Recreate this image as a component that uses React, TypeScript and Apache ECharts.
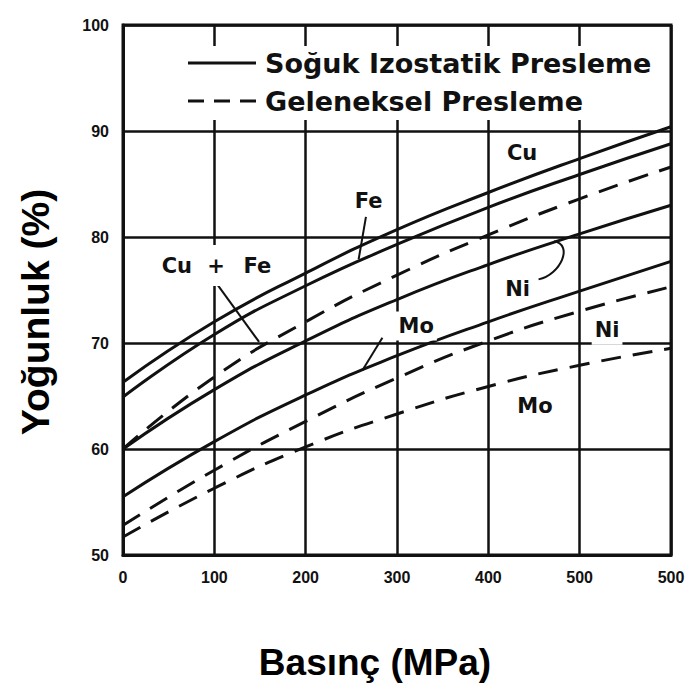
import React, { useEffect, useRef } from "react";
import * as echarts from "echarts";

// Pressure (MPa) at the grid lines
const pressure = [0, 100, 200, 300, 400, 500, 600];
// Cold isostatic pressing (solid)
const cuSolid = [66.3, 72.0, 76.6, 80.7, 84.2, 87.4, 90.4];
const feSolid = [64.9, 70.8, 75.4, 79.3, 82.8, 85.9, 88.8];
const niSolid = [60.0, 65.6, 70.2, 74.1, 77.4, 80.3, 83.0];
const moSolid = [55.5, 60.7, 65.1, 68.8, 72.0, 74.9, 77.7];
// Conventional pressing (dashed)
const cuFeDashed = [60.0, 66.8, 72.0, 76.4, 80.2, 83.6, 86.6];
const niDashed = [52.8, 58.0, 62.6, 66.7, 70.2, 73.0, 75.3];
const moDashed = [51.7, 56.3, 60.2, 63.3, 65.9, 67.9, 69.5];

const xTickLabels = ["0", "100", "200", "300", "400", "500", "500"];
const yTickLabels = ["50", "60", "70", "80", "90", "100"];

const solidName = "Soğuk Izostatik Presleme";
const dashedName = "Geleneksel Presleme";

// Curve labels placed in data coordinates [pressure, density]
const curveLabels: { text: string; at: [number, number]; pad?: number[] }[] = [
  { text: "Cu", at: [437, 87.9] },
  { text: "Fe", at: [269, 83.4] },
  { text: "Cu", at: [59, 77.3] },
  { text: "+", at: [102, 77.3], pad: [10, 4] },
  { text: "Fe", at: [147, 77.3] },
  { text: "Ni", at: [432, 75.1] },
  { text: "Mo", at: [321, 71.6] },
  { text: "Ni", at: [530, 71.2] },
  { text: "Mo", at: [451, 64.1] },
];
const leaders: [number, number][][] = [
  [[266, 81.9], [258, 77.9]],
  [[100, 75.9], [149, 70.1]],
  [[284, 70.5], [262, 67.4]],
];
const niLeader: [number, number][] = [[455, 76.0], [480, 76.5], [493, 79.3], [472, 79.6]];

const INK = "#111";

export default function App() {
  const ref = useRef<HTMLDivElement>(null);
  useEffect(() => {
    const chart = echarts.init(ref.current!, null, { renderer: "svg" });
    const mk = (name: string, vals: number[], dashed: boolean) => ({
      type: "line",
      name,
      data: pressure.map((x, i) => [x, vals[i]]),
      smooth: 0.5,
      symbol: "none",
      showSymbol: false,
      silent: true,
      lineStyle: { color: INK, width: 3, type: dashed ? [20, 12] : "solid" },
      itemStyle: { color: INK },
      z: 3,
    });
    const tickFont = {
      fontFamily: "'Liberation Sans Narrow', 'Liberation Sans', sans-serif",
      fontWeight: "bold",
      fontSize: 16,
      color: INK,
    };
    chart.setOption({
      animation: false,
      backgroundColor: "#fff",
      grid: { left: 123, right: 17, top: 25, bottom: 133, show: true, borderColor: INK, borderWidth: 3, backgroundColor: "transparent" },
      xAxis: {
        type: "value",
        min: 0,
        max: 600,
        interval: 100,
        axisLine: { show: true, lineStyle: { color: INK, width: 3 } },
        axisTick: { show: false },
        splitLine: { show: true, lineStyle: { color: INK, width: 2.5 } },
        axisLabel: { ...tickFont, margin: 14, formatter: (v: number) => xTickLabels[Math.round(v / 100)] },
      },
      yAxis: {
        type: "value",
        min: 50,
        max: 100,
        interval: 10,
        axisLine: { show: true, lineStyle: { color: INK, width: 3 } },
        axisTick: { show: false },
        splitLine: { show: true, lineStyle: { color: INK, width: 2.5 } },
        axisLabel: { ...tickFont, margin: 14, formatter: (v: number) => yTickLabels[Math.round((v - 50) / 10)] },
      },
      series: [
        mk(solidName, cuSolid, false),
        mk(solidName, feSolid, false),
        mk(solidName, niSolid, false),
        mk(solidName, moSolid, false),
        mk(dashedName, cuFeDashed, true),
        mk(dashedName, niDashed, true),
        mk(dashedName, moDashed, true),
      ],
    });

    const px = (p: [number, number]) => chart.convertToPixel({ gridIndex: 0 }, p) as number[];
    const graphic: any[] = [];
    // legend box (drawn manually so the sample lines have no symbol)
    graphic.push({ type: "rect", z: 40, silent: true, shape: { x: 180, y: 46, width: 485, height: 74 }, style: { fill: "#fff" } });
    graphic.push({ type: "line", z: 41, silent: true, shape: { x1: 188, y1: 63, x2: 256, y2: 63 }, style: { stroke: INK, lineWidth: 3 } });
    graphic.push({ type: "line", z: 41, silent: true, shape: { x1: 188, y1: 101, x2: 256, y2: 101 }, style: { stroke: INK, lineWidth: 3, lineDash: [16, 10] } });
    [[solidName, 63], [dashedName, 101]].forEach(([t, y]) => {
      graphic.push({
        type: "text",
        z: 41,
        silent: true,
        x: 265,
        y: y as number,
        style: { text: t as string, align: "left", verticalAlign: "middle", fontFamily: "'DejaVu Sans', sans-serif", fontWeight: "bold", fontSize: 27, fill: INK },
      });
    });
    leaders.forEach((seg) => {
      const a = px(seg[0]);
      const b = px(seg[1]);
      graphic.push({ type: "line", z: 50, silent: true, shape: { x1: a[0], y1: a[1], x2: b[0], y2: b[1] }, style: { stroke: INK, lineWidth: 2 } });
    });
    {
      const [s, c1, c2, e] = niLeader.map(px);
      graphic.push({
        type: "bezierCurve",
        z: 50,
        silent: true,
        shape: { x1: s[0], y1: s[1], cpx1: c1[0], cpy1: c1[1], cpx2: c2[0], cpy2: c2[1], x2: e[0], y2: e[1] },
        style: { stroke: INK, lineWidth: 2, fill: null },
      });
    }
    curveLabels.forEach((l) => {
      const p = px(l.at);
      graphic.push({
        type: "text",
        z: 60,
        silent: true,
        x: p[0],
        y: p[1],
        style: {
          text: l.text,
          align: "center",
          verticalAlign: "middle",
          fontFamily: "'DejaVu Sans', sans-serif",
          fontWeight: "bold",
          fontSize: 21,
          fill: INK,
          backgroundColor: "#fff",
          padding: l.pad || [4, 3],
        },
      });
    });
    graphic.push({
      type: "text",
      silent: true,
      x: 375,
      y: 662,
      style: { text: "Basınç (MPa)", align: "center", verticalAlign: "middle", fontFamily: "'Liberation Sans', Arial, sans-serif", fontWeight: "bold", fontSize: 37, fill: "#000" },
    });
    graphic.push({
      type: "text",
      silent: true,
      x: 35,
      y: 312,
      rotation: Math.PI / 2,
      style: { text: "Yoğunluk (%)", align: "center", verticalAlign: "middle", fontFamily: "'Liberation Sans', Arial, sans-serif", fontWeight: "bold", fontSize: 39, fill: "#000" },
    });
    chart.setOption({ graphic });
    return () => chart.dispose();
  }, []);
  return <div ref={ref} style={{ position: "fixed", left: 0, top: 0, width: 688, height: 688, background: "#fff" }} />;
}
